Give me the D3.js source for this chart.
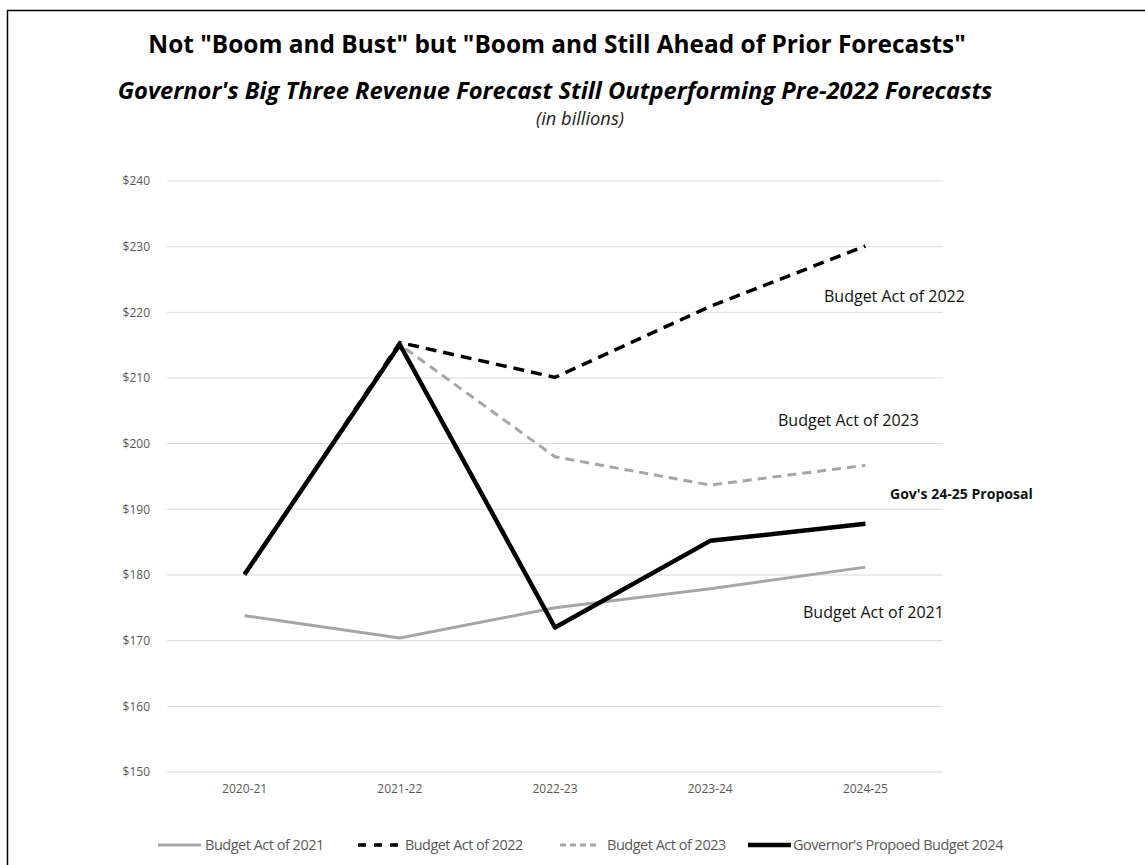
<!DOCTYPE html>
<html>
<head>
<meta charset="utf-8">
<script src="https://cdn.jsdelivr.net/npm/d3@7"></script>
<style>
  body { margin: 0; background: #fff; }
  text { font-family: "Open Sans", "Noto Sans", sans-serif; }
</style>
</head>
<body>
<div id="chart"></div>
<script>
// Big Three revenue forecasts, in billions
const years = ['2020-21', '2021-22', '2022-23', '2023-24', '2024-25'];
const act2021 = [173.8, 170.4, 175.0, 177.9, 181.2];
const act2022 = [180.0, 215.4, 210.1, 220.9, 230.1];
const act2023 = [180.0, 215.1, 198.0, 193.7, 196.7];
const gov2024 = [180.1, 215.1, 172.0, 185.2, 187.8];
const yTicks = [150, 160, 170, 180, 190, 200, 210, 220, 230, 240];

const width = 1145;
const height = 865;
const margin = { top: 181, right: 202, bottom: 93, left: 167 };

const svg = d3.select('#chart')
  .append('svg')
  .attr('width', width)
  .attr('height', height);

// frame around the chart (only top and left visible)
svg.append('rect')
  .attr('x', 7.5).attr('y', 10.5)
  .attr('width', width + 10).attr('height', height + 10)
  .attr('fill', 'none')
  .attr('stroke', '#000')
  .attr('stroke-width', 1.5);

const x = d3.scaleBand()
  .domain(years)
  .range([margin.left, width - margin.right]);

const y = d3.scaleLinear()
  .domain([150, 240])
  .range([height - margin.bottom, margin.top]);

// scale font size so the text takes a measured width
function fitText(node, target) {
  const sel = d3.select(node);
  const size = parseFloat(sel.attr('font-size'));
  const w = node.getComputedTextLength();
  if (w > 0) sel.attr('font-size', size * target / w);
}

// titles
const title = svg.append('text')
  .attr('x', 557).attr('y', 53)
  .attr('text-anchor', 'middle')
  .attr('font-size', 22)
  .attr('font-weight', 700)
  .attr('fill', '#000')
  .text('Not "Boom and Bust" but "Boom and Still Ahead of Prior Forecasts"');
fitText(title.node(), 818);

const subtitle = svg.append('text')
  .attr('x', 555).attr('y', 99)
  .attr('text-anchor', 'middle')
  .attr('font-size', 19)
  .attr('font-weight', 700)
  .attr('font-style', 'italic')
  .attr('fill', '#000')
  .text("Governor's Big Three Revenue Forecast Still Outperforming Pre-2022 Forecasts");
fitText(subtitle.node(), 875);

const units = svg.append('text')
  .attr('x', 580).attr('y', 125)
  .attr('text-anchor', 'middle')
  .attr('font-size', 13)
  .attr('font-style', 'italic')
  .attr('fill', '#222')
  .text('(in billions)');
fitText(units.node(), 88);

// gridlines
svg.append('g')
  .selectAll('line')
  .data(yTicks)
  .join('line')
  .attr('x1', margin.left)
  .attr('x2', width - margin.right)
  .attr('y1', d => y(d))
  .attr('y2', d => y(d))
  .attr('stroke', '#d9d9d9')
  .attr('stroke-width', 1);

// y axis
const yAxis = svg.append('g')
  .attr('transform', `translate(${margin.left - 14},0)`)
  .call(d3.axisLeft(y).tickValues(yTicks).tickSize(0).tickFormat(d => '$' + d));
yAxis.select('.domain').remove();
yAxis.selectAll('text')
  .attr('font-size', 12)
  .attr('fill', '#595959')
  .attr('font-family', '"Open Sans", sans-serif');

// x axis
const xAxis = svg.append('g')
  .attr('transform', `translate(0,${height - margin.bottom + 9})`)
  .call(d3.axisBottom(x).tickSize(0));
xAxis.select('.domain').remove();
xAxis.selectAll('text')
  .attr('font-size', 12)
  .attr('fill', '#595959')
  .attr('font-family', '"Open Sans", sans-serif');

const line = d3.line()
  .x((d, i) => x(years[i]) + x.bandwidth() / 2)
  .y(d => y(d));

const series = [
  { name: 'Budget Act of 2021', values: act2021, color: '#a6a6a6', width: 3, dash: null },
  { name: 'Budget Act of 2022', values: act2022, color: '#000', width: 3.5, dash: '11,7' },
  { name: 'Budget Act of 2023', values: act2023, color: '#a6a6a6', width: 3, dash: '9,6' },
  { name: "Governor's Propoed Budget 2024", values: gov2024, color: '#000', width: 4.5, dash: null }
];

svg.append('g')
  .selectAll('path')
  .data(series)
  .join('path')
  .attr('d', d => line(d.values))
  .attr('fill', 'none')
  .attr('stroke', d => d.color)
  .attr('stroke-width', d => d.width)
  .attr('stroke-dasharray', d => d.dash)
  .attr('stroke-linejoin', 'round');

// labels next to the lines
const notes = [
  { text: 'Budget Act of 2022', x: 824, y: 302, w: 141, bold: false },
  { text: 'Budget Act of 2023', x: 778, y: 426, w: 141, bold: false },
  { text: "Gov's 24-25 Proposal", x: 890, y: 499, w: 143, bold: true },
  { text: 'Budget Act of 2021', x: 803, y: 618, w: 141, bold: false }
];
svg.append('g')
  .selectAll('text')
  .data(notes)
  .join('text')
  .attr('x', d => d.x)
  .attr('y', d => d.y)
  .attr('font-size', 14)
  .attr('font-weight', d => d.bold ? 700 : 400)
  .attr('fill', '#111')
  .text(d => d.text)
  .each(function(d) { fitText(this, d.w); });

// legend
const legendX = [158, 358, 560, 748];
const legendW = [117, 116, 117, 207];
const legend = svg.append('g')
  .selectAll('g')
  .data(series)
  .join('g')
  .attr('transform', (d, i) => `translate(${legendX[i]},845)`);
legend.append('line')
  .attr('x1', 0).attr('x2', (d, i) => i === 1 || i === 2 ? 40 : 43)
  .attr('y1', 0).attr('y2', 0)
  .attr('stroke', d => d.color)
  .attr('stroke-width', d => d.width)
  .attr('stroke-dasharray', (d, i) => i === 1 ? '8,8' : (i === 2 ? '6,4' : null));
legend.append('text')
  .attr('x', (d, i) => i === 3 ? 45 : 47)
  .attr('y', 4.5)
  .attr('font-size', 12)
  .attr('fill', '#595959')
  .attr('letter-spacing', -0.5)
  .text(d => d.name)
  .each(function(d, i) { fitText(this, legendW[i]); });
</script>
</body>
</html>
